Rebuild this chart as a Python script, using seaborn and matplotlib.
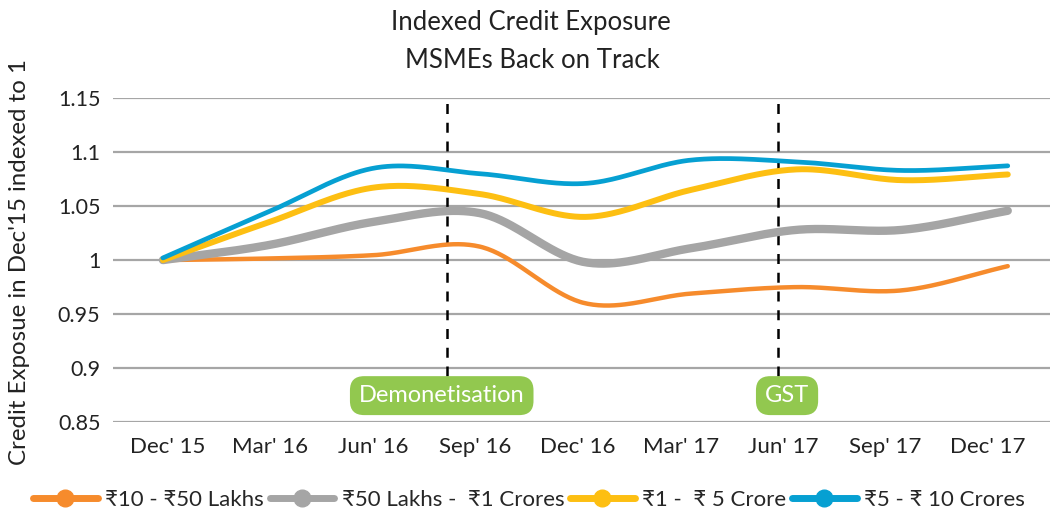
import numpy as np
import pandas as pd
import matplotlib
matplotlib.use("Agg")
import matplotlib.pyplot as plt
import seaborn as sns
from matplotlib.lines import Line2D

# ---- data ----
quarters = [0, 1, 2, 3, 4, 5, 6, 7, 8]
tick_labels = ["Dec' 15", "Mar' 16", "Jun' 16", "Sep' 16", "Dec' 16",
               "Mar' 17", "Jun' 17", "Sep' 17", "Dec' 17"]
series_names = ["₹10 - ₹50 Lakhs", "₹50 Lakhs -  ₹1 Crores",
                "₹1 -  ₹ 5 Crore", "₹5 - ₹ 10 Crores"]
lakh10_50 = [1.000, 1.0015, 1.0046, 1.0125, 0.960, 0.969, 0.975, 0.972, 0.9944]
lakh50_cr1 = [1.000, 1.0139, 1.0355, 1.0435, 0.998, 1.011, 1.028, 1.028, 1.0457]
cr1_5 = [1.000, 1.035, 1.0672, 1.0612, 1.040, 1.065, 1.084, 1.074, 1.0793]
cr5_10 = [1.002, 1.0447, 1.0852, 1.0800, 1.071, 1.0926, 1.091, 1.083, 1.0873]
events = ["Demonetisation", "GST"]
event_x = [2.69, 5.82]

colors = ["#F68B2C", "#A5A5A5", "#FDBF12", "#06A0D2"]
widths = [3.2, 6.0, 4.3, 3.4]
FONT = ["Lato", "DejaVu Sans"]


def catmull_rom(x, y, n=40):
    x = np.asarray(x, float)
    y = np.asarray(y, float)
    px = np.concatenate([[2 * x[0] - x[1]], x, [2 * x[-1] - x[-2]]])
    py = np.concatenate([[2 * y[0] - y[1]], y, [2 * y[-1] - y[-2]]])
    xs, ys = [], []
    for i in range(1, len(px) - 2):
        t = np.linspace(0, 1, n, endpoint=False)
        for arr, out in ((px, xs), (py, ys)):
            p0, p1, p2, p3 = arr[i - 1], arr[i], arr[i + 1], arr[i + 2]
            out.append(0.5 * ((2 * p1) + (-p0 + p2) * t +
                              (2 * p0 - 5 * p1 + 4 * p2 - p3) * t ** 2 +
                              (-p0 + 3 * p1 - 3 * p2 + p3) * t ** 3))
    xs.append([x[-1]])
    ys.append([y[-1]])
    return np.concatenate(xs), np.concatenate(ys)


sns.set_style("white")
plt.rcParams["font.family"] = FONT

fig = plt.figure(figsize=(10.5, 5.11), dpi=100)
ax = fig.add_axes([0.1076, 0.174, 0.8924, 0.634])

frames = []
for name, vals in zip(series_names, [lakh10_50, lakh50_cr1, cr1_5, cr5_10]):
    sx, sy = catmull_rom(quarters, vals)
    frames.append(pd.DataFrame({"x": sx, "y": sy, "series": name}))
df = pd.concat(frames, ignore_index=True)

for name, c, w in zip(series_names, colors, widths):
    sns.lineplot(data=df[df["series"] == name], x="x", y="y", color=c,
                 linewidth=w, ax=ax, legend=False, sort=False,
                 solid_capstyle="round")

ax.set_xlim(-0.473, 8.40)
ax.set_ylim(0.85, 1.15)
ax.set_yticks([0.85, 0.9, 0.95, 1.0, 1.05, 1.1, 1.15])
ax.set_yticklabels(["0.85", "0.9", "0.95", "1", "1.05", "1.1", "1.15"],
                   fontsize=15.5, color="#222222")
tick_pos = [0.047 + 0.971 * i for i in range(len(tick_labels))]
ax.set_xticks(tick_pos)
ax.set_xticklabels(tick_labels, fontsize=16, color="#222222")
ax.tick_params(axis="both", length=0)
ax.tick_params(axis="x", pad=11)
ax.tick_params(axis="y", pad=9)
ax.grid(axis="y", color="#A6A6A6", linewidth=1.6)
ax.set_axisbelow(True)
for s in ax.spines.values():
    s.set_visible(False)
ax.set_xlabel("")
ax.set_ylabel("")
fig.text(20 / 1050, 1 - 262 / 511, "Credit Exposue in Dec'15 indexed to 1",
         rotation=90, ha="center", va="center", fontsize=17.3,
         color="#222222")

box_x = [2.64, 5.91]
for lab, ex, bx in zip(events, event_x, box_x):
    ax.plot([ex, ex], [0.893, 1.15], color="black", linewidth=1.8,
            dashes=(4, 3.5), zorder=1)
    ax.text(bx, 0.8745, lab, ha="center", va="center", fontsize=17,
            color="white",
            bbox=dict(boxstyle="round,pad=0.38,rounding_size=0.6",
                      facecolor="#92C84F", edgecolor="none"), zorder=5)

fig.text(0.506, 0.955, "Indexed Credit Exposure", ha="center", va="center",
         fontsize=18.5, color="#222222")
fig.text(0.507, 0.882, "MSMEs Back on Track", ha="center", va="center",
         fontsize=18.5, color="#222222")

handles = [Line2D([0], [0], color=c, linewidth=5, marker="o", markersize=12,
                  markerfacecolor=c, markeredgecolor=c) for c in colors]
fig.legend(handles, series_names, loc="center", bbox_to_anchor=(0.504, 0.022),
           ncol=4, frameon=False, fontsize=16, handlelength=2.9,
           handletextpad=0.35, columnspacing=0.25)

fig.savefig("out.png", dpi=100)
